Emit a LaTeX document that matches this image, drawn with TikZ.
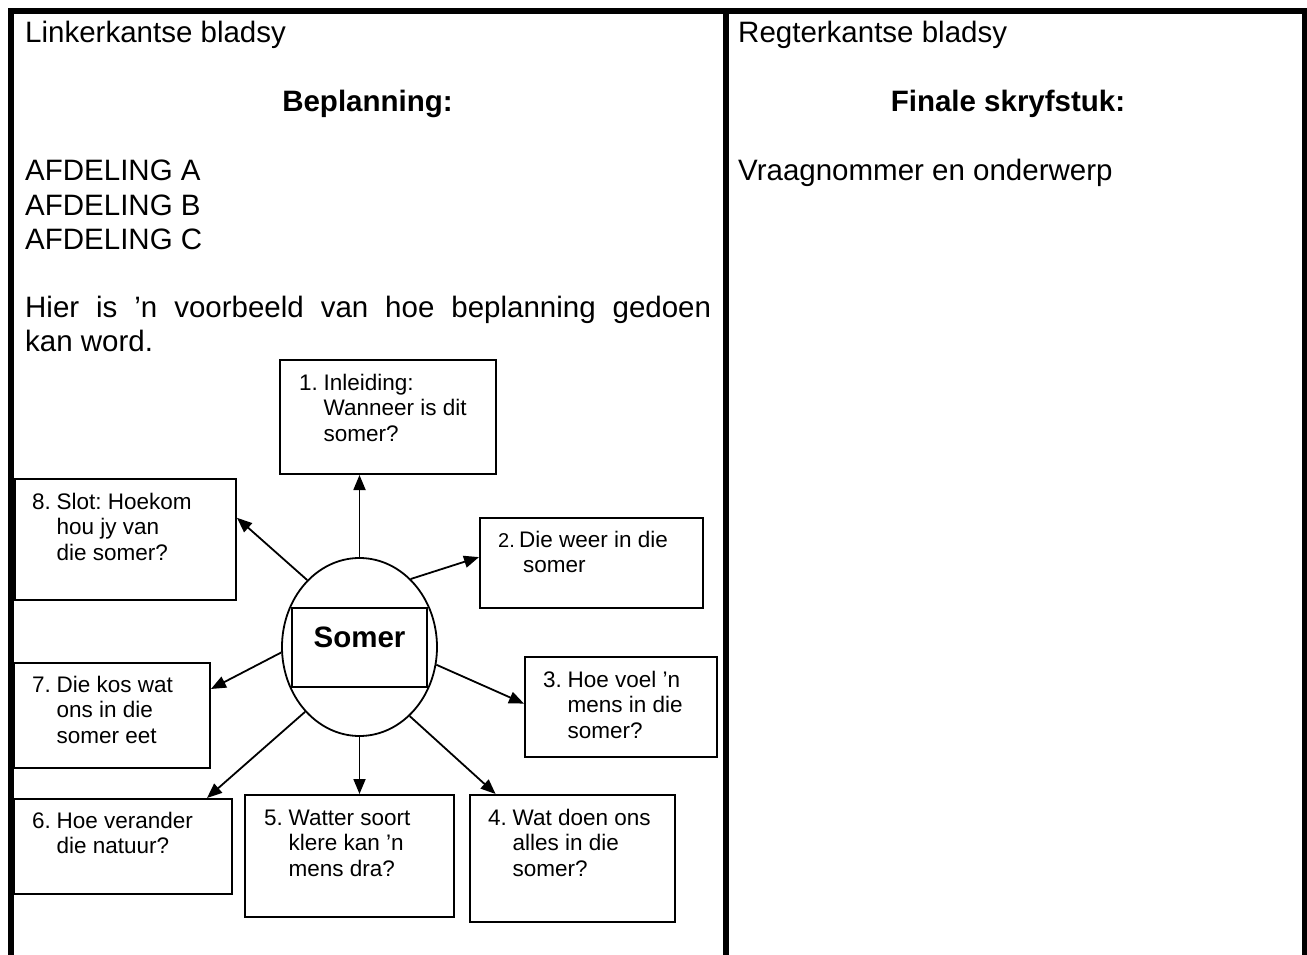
\documentclass[tikz,border=0pt]{standalone}
\usepackage{fontspec}
\setmainfont{Liberation Sans}
\usetikzlibrary{calc}
\usetikzlibrary{arrows.meta}
\usetikzlibrary{shapes.geometric}
\frenchspacing

\newcommand{\bigtxt}{\fontsize{29.5}{34}\selectfont}
\newcommand{\boxtxt}{\fontsize{22.5}{25.5}\selectfont}
\newcommand{\qlist}[3][24.5pt]{\begin{tabular}[t]{@{}p{#1}@{}l@{}}#2&#3\end{tabular}}

\tikzset{
  frame/.style={black, line width=5.7pt, line join=miter},
  qbox/.style={draw, black, line width=2pt, rectangle, inner sep=0pt, anchor=north west},
  qtxt/.style={inner sep=0pt, anchor=base west, font=\boxtxt},
  ptxt/.style={inner sep=0pt, anchor=base west, font=\bigtxt},
  arr/.style={black, line width=1.8pt, -{Triangle[length=15pt,width=12pt]}}
}

\begin{document}
\begin{tikzpicture}[x=1pt, y=-1pt]
\useasboundingbox (0,0) rectangle (1307,955);
% page frame
\draw[frame] (11,955) -- (11,11) -- (1305,11) -- (1305,955);
\draw[frame] (726,11) -- (726,955);

% left page
\node[ptxt] (lhead) at (25,42.3) {Linkerkantse bladsy};
\node[ptxt, anchor=base, font=\bigtxt\bfseries] (plan) at (367.5,111.7) {Beplanning:};
\foreach \s [count=\i from 0] in {A,B,C}
  \node[ptxt] (afd\s) at (25,{180.7+34.3*\i}) {AFDELING \s};
\node[ptxt, text width=686pt, align=justify] (intro) at (25,317.7)
  {\spaceskip=0.278em plus 1em\relax Hier is ’n voorbeeld van hoe beplanning gedoen\linebreak kan word.};

% mind map
\node[draw, ellipse, line width=1.8pt, minimum width=155pt, minimum height=178pt, inner sep=0pt] (core) at (359.5,647) {};
\node[draw, rectangle, line width=2pt, minimum width=135.6pt, inner xsep=0pt, inner ysep=0pt,
  text height=39pt, text depth=40pt, anchor=base, font=\bigtxt\bfseries] (hub) at (359.5,647.3) {Somer};

\node[qbox, minimum width=216pt, minimum height=114pt] (b1) at (279,359) {};
\node[qbox, minimum width=223pt, minimum height=90pt] (b2) at (479,517) {};
\node[qbox, minimum width=192pt, minimum height=100pt] (b3) at (524,656) {};
\node[qbox, minimum width=205pt, minimum height=127pt] (b4) at (469,794) {};
\node[qbox, minimum width=209pt, minimum height=122pt] (b5) at (244,794) {};
\node[qbox, minimum width=218pt, minimum height=95pt] (b6) at (13,798) {};
\node[qbox, minimum width=196pt, minimum height=105pt] (b7) at (13,662) {};
\node[qbox, minimum width=221pt, minimum height=121pt] (b8) at (14,478) {};

\node[qtxt] (t1) at ($(b1.north west)+(20,31)$) {\qlist{1.}{Inleiding:\\&Wanneer is dit\\&somer?}};
\node[qtxt] (t2) at ($(b2.north west)+(19,30)$) {\qlist[21pt]{\fontsize{20}{25.5}\selectfont 2.}{Die weer in die\\&\hspace{4pt}somer}};
\node[qtxt] (t3) at ($(b3.north west)+(19,31)$) {\qlist{3.}{Hoe voel ’n\\&mens in die\\&somer?}};
\node[qtxt] (t4) at ($(b4.north west)+(19,31)$) {\qlist{4.}{Wat doen ons\\&alles in die\\&somer?}};
\node[qtxt] (t5) at ($(b5.north west)+(20,31)$) {\qlist{5.}{Watter soort\\&klere kan ’n\\&mens dra?}};
\node[qtxt] (t6) at ($(b6.north west)+(19,30)$) {\qlist{6.}{Hoe verander\\&die natuur?}};
\node[qtxt] (t7) at ($(b7.north west)+(19,30)$) {\qlist{7.}{Die kos wat\\&ons in die\\&somer eet}};
\node[qtxt] (t8) at ($(b8.north west)+(18,31)$) {\qlist{8.}{Slot: Hoekom\\&hou jy van\\&die somer?}};

\draw[arr] (core.north) -- (core.north |- b1.south);
\draw[arr] (core.53) -- (b2.177);
\draw[arr] (core.-13) -- (b3.178);
\draw[arr] (core.306) -- (b4.140);
\draw[arr] (core.south) -- (core.south |- b5.north);
\draw[arr] (core.230) -- (b6.30);
\draw[arr] (core.184) -- (b7.15);
\draw[arr] (core.128) -- (b8.11);

% right page
\node[ptxt] (rhead) at (738,42.3) {Regterkantse bladsy};
\node[ptxt, anchor=base, font=\bigtxt\bfseries] (final) at (1008,111.7) {Finale skryfstuk:};
\node[ptxt] (topic) at (738,180.5) {Vraagnommer en onderwerp};
\end{tikzpicture}
\end{document}
